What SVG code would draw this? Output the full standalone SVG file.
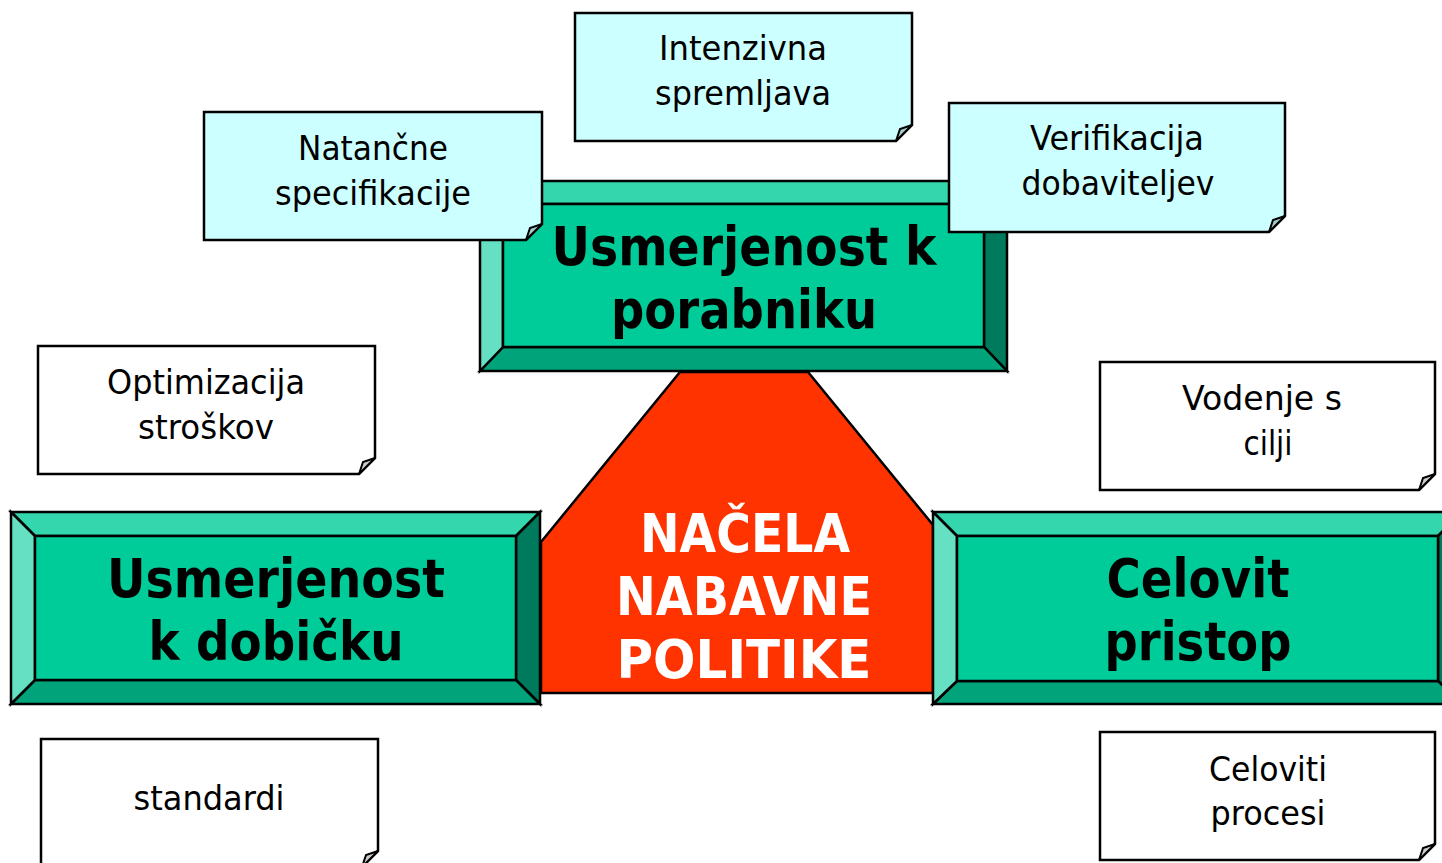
<svg xmlns="http://www.w3.org/2000/svg" width="1442" height="863" viewBox="0 0 1442 863">
<style>
.ln{stroke:#000;stroke-width:2.5;stroke-linejoin:miter}
.bt{fill:#33D6AD}.bl{fill:#66E0C2}.bb{fill:#00A37A}.br{fill:#007A5C}.bf{fill:#00CC99}
.nc{fill:#CCFFFF;stroke:#000;stroke-width:2.5}
.nw{fill:#FFFFFF;stroke:#000;stroke-width:2.5}
.fc{fill:#A3CCCC;stroke:#000;stroke-width:2}
.fw{fill:#CCCCCC;stroke:#000;stroke-width:2}
.t{font-family:"DejaVu Sans","Liberation Sans",sans-serif;font-size:34px;fill:#000;text-anchor:middle}
.b{font-family:"DejaVu Sans","Liberation Sans",sans-serif;font-size:54px;font-weight:bold;fill:#000;text-anchor:middle}
.w{fill:#FFFFFF}
</style>
<rect width="1442" height="863" fill="#FFFFFF"/>
<g id="connectors"/>
<g id="center">
<polygon points="541,542 680,372 808,372 933,525 933,693 541,693" fill="#FF3300" class="ln" stroke-width="2"/>
<text class="b w" x="745" y="552" textLength="210" lengthAdjust="spacingAndGlyphs">NAČELA</text>
<text class="b w" x="744" y="615" textLength="256" lengthAdjust="spacingAndGlyphs">NABAVNE</text>
<text class="b w" x="744" y="678" textLength="255" lengthAdjust="spacingAndGlyphs">POLITIKE</text>
</g>
<g id="box-top">
<polygon class="bt ln" points="480,181 1007,181 984,204 503,204"/>
<polygon class="br ln" points="1007,181 1007,371 984,347 984,204"/>
<polygon class="bb ln" points="1007,371 480,371 503,347 984,347"/>
<polygon class="bl ln" points="480,371 480,181 503,204 503,347"/>
<rect class="bf ln" x="503" y="204" width="481" height="143"/>
<text class="b" x="744" y="265" textLength="385" lengthAdjust="spacingAndGlyphs">Usmerjenost k</text>
<text class="b" x="744" y="328" textLength="266" lengthAdjust="spacingAndGlyphs">porabniku</text>
</g>
<g id="box-left">
<polygon class="bt ln" points="11,512 540,512 516,536 35,536"/>
<polygon class="br ln" points="540,512 540,704 516,680 516,536"/>
<polygon class="bb ln" points="540,704 11,704 35,680 516,680"/>
<polygon class="bl ln" points="11,704 11,512 35,536 35,680"/>
<rect class="bf ln" x="35" y="536" width="481" height="144"/>
<text class="b" x="276" y="597" textLength="338" lengthAdjust="spacingAndGlyphs">Usmerjenost</text>
<text class="b" x="276" y="660" textLength="255" lengthAdjust="spacingAndGlyphs">k dobičku</text>
</g>
<g id="box-right">
<polygon class="bt ln" points="933,512 1462,512 1438,536 957,536"/>
<polygon class="br ln" points="1462,512 1462,704 1438,681 1438,536"/>
<polygon class="bb ln" points="1462,704 933,704 957,681 1438,681"/>
<polygon class="bl ln" points="933,704 933,512 957,536 957,681"/>
<rect class="bf ln" x="957" y="536" width="481" height="145"/>
<text class="b" x="1198" y="597" textLength="183" lengthAdjust="spacingAndGlyphs">Celovit</text>
<text class="b" x="1198" y="660" textLength="187" lengthAdjust="spacingAndGlyphs">pristop</text>
</g>
<g id="note-intenzivna">
<path class="nc" d="M575,13 H912 V125 L896,141 H575 Z"/>
<polygon class="fc" points="896,141 900,129 912,125"/>
<text class="t" x="743" y="60" textLength="168" lengthAdjust="spacingAndGlyphs">Intenzivna</text>
<text class="t" x="743" y="105" textLength="176" lengthAdjust="spacingAndGlyphs">spremljava</text>
</g>
<g id="note-natancne">
<path class="nc" d="M204,112 H542 V224 L526,240 H204 Z"/>
<polygon class="fc" points="526,240 530,228 542,224"/>
<text class="t" x="373" y="160" textLength="150" lengthAdjust="spacingAndGlyphs">Natančne</text>
<text class="t" x="373" y="205" textLength="196" lengthAdjust="spacingAndGlyphs">specifikacije</text>
</g>
<g id="note-verifikacija">
<path class="nc" d="M949,103 H1285 V216 L1269,232 H949 Z"/>
<polygon class="fc" points="1269,232 1273,220 1285,216"/>
<text class="t" x="1117" y="150" textLength="174" lengthAdjust="spacingAndGlyphs">Verifikacija</text>
<text class="t" x="1118" y="195" textLength="193" lengthAdjust="spacingAndGlyphs">dobaviteljev</text>
</g>
<g id="note-optimizacija">
<path class="nw" d="M38,346 H375 V458 L359,474 H38 Z"/>
<polygon class="fw" points="359,474 363,462 375,458"/>
<text class="t" x="206" y="394" textLength="198" lengthAdjust="spacingAndGlyphs">Optimizacija</text>
<text class="t" x="206" y="439" textLength="136" lengthAdjust="spacingAndGlyphs">stroškov</text>
</g>
<g id="note-vodenje">
<path class="nw" d="M1100,362 H1435 V474 L1419,490 H1100 Z"/>
<polygon class="fw" points="1419,490 1423,478 1435,474"/>
<text class="t" x="1262" y="410" textLength="160" lengthAdjust="spacingAndGlyphs">Vodenje s</text>
<text class="t" x="1268" y="455" textLength="49" lengthAdjust="spacingAndGlyphs">cilji</text>
</g>
<g id="note-standardi">
<path class="nw" d="M41,739 H378 V851 L362,867 H41 Z"/>
<polygon class="fw" points="362,867 366,855 378,851"/>
<text class="t" x="209" y="810" textLength="151" lengthAdjust="spacingAndGlyphs">standardi</text>
</g>
<g id="note-celoviti">
<path class="nw" d="M1100,732 H1435 V844 L1419,860 H1100 Z"/>
<polygon class="fw" points="1419,860 1423,848 1435,844"/>
<text class="t" x="1268" y="781" textLength="118" lengthAdjust="spacingAndGlyphs">Celoviti</text>
<text class="t" x="1268" y="825" textLength="115" lengthAdjust="spacingAndGlyphs">procesi</text>
</g>
</svg>
